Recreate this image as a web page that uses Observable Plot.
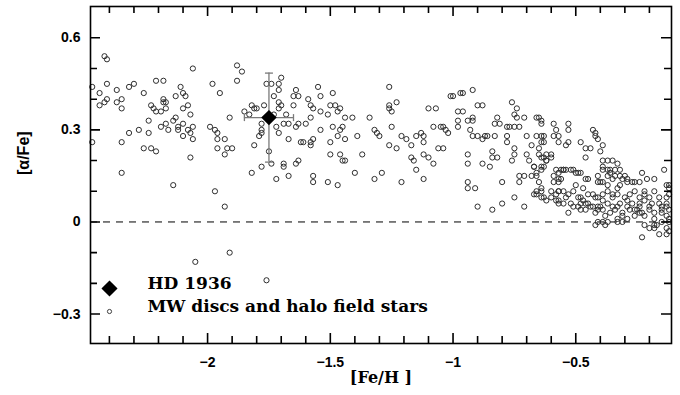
<!DOCTYPE html>
<html><head><meta charset="utf-8">
<script src="https://cdn.jsdelivr.net/npm/d3@7"></script>
<script src="https://cdn.jsdelivr.net/npm/@observablehq/plot@0.6"></script>
<style>
html,body{margin:0;padding:0;background:#fff;color:#000;}
#chart svg{display:block;}
</style></head><body><div id="chart"></div>
<script>
// [Fe/H], [alpha/Fe] of MW discs and halo field stars
const metalPoorStars = [
[-2.42,0.54],[-2.41,0.53],[-2.06,0.50],[-2.47,0.44],[-2.41,0.45],[-2.44,0.42],[-2.37,0.43],[-2.32,0.44],[-2.30,0.45],[-2.26,0.42],
[-2.21,0.46],[-2.18,0.46],[-2.11,0.44],[-2.10,0.42],[-2.09,0.41],[-2.13,0.41],[-1.98,0.45],[-1.95,0.42],[-2.44,0.38],[-2.42,0.39],
[-2.41,0.40],[-2.37,0.39],[-2.35,0.40],[-2.35,0.37],[-2.23,0.38],[-2.22,0.37],[-2.21,0.36],[-2.19,0.36],[-2.18,0.39],[-2.18,0.40],
[-2.17,0.39],[-2.17,0.37],[-2.13,0.34],[-2.14,0.33],[-2.10,0.37],[-2.08,0.38],[-2.07,0.35],[-2.24,0.33],[-2.28,0.30],[-2.24,0.29],
[-2.32,0.29],[-2.47,0.26],[-2.35,0.26],[-2.26,0.24],[-2.23,0.24],[-2.21,0.23],[-2.19,0.31],[-2.17,0.32],[-2.16,0.30],[-2.12,0.31],
[-2.12,0.30],[-2.10,0.28],[-2.10,0.32],[-2.08,0.30],[-2.07,0.29],[-2.06,0.31],[-2.06,0.27],[-2.07,0.21],[-2.35,0.16],[-2.14,0.12],
[-1.99,0.31],[-1.97,0.30],[-1.96,0.29],[-1.96,0.27],[-1.96,0.24],[-1.93,0.27],[-1.92,0.24],[-1.93,0.22],[-1.91,0.34],[-1.97,0.10],
[-1.93,0.05],[-1.91,-0.10],[-2.05,-0.13],[-1.76,-0.19],[-1.90,0.24]
];
const intermediateStars = [
[-1.88,0.51],[-1.86,0.49],[-1.88,0.46],[-1.81,0.25],[-1.82,0.16],[-1.78,0.18],[-1.74,0.19],[-1.69,0.19],[-1.69,0.18],[-1.72,0.14],
[-1.67,0.15],[-1.64,0.19],[-1.63,0.20],[-1.75,0.23],[-1.76,0.45],[-1.74,0.45],[-1.71,0.45],[-1.70,0.47],[-1.71,0.43],[-1.73,0.41],
[-1.71,0.39],[-1.70,0.38],[-1.71,0.37],[-1.77,0.38],[-1.82,0.38],[-1.81,0.37],[-1.80,0.37],[-1.85,0.36],[-1.83,0.35],[-1.73,0.35],
[-1.68,0.35],[-1.78,0.32],[-1.78,0.29],[-1.78,0.30],[-1.79,0.28],[-1.72,0.31],[-1.71,0.29],[-1.69,0.32],[-1.67,0.32],[-1.64,0.31],
[-1.63,0.32],[-1.60,0.32],[-1.58,0.34],[-1.67,0.27],[-1.62,0.26],[-1.58,0.26],[-1.58,0.25],[-1.57,0.27],[-1.64,0.43],[-1.63,0.41],
[-1.65,0.41],[-1.65,0.38],[-1.59,0.40],[-1.58,0.38],[-1.57,0.37],[-1.55,0.44],[-1.54,0.41],[-1.54,0.36],[-1.51,0.35],[-1.49,0.42],
[-1.50,0.38],[-1.48,0.38],[-1.46,0.37],[-1.47,0.36],[-1.44,0.34],[-1.41,0.34],[-1.46,0.30],[-1.45,0.31],[-1.49,0.31],[-1.54,0.30],
[-1.47,0.28],[-1.44,0.27],[-1.39,0.28],[-1.50,0.26],[-1.50,0.22],[-1.46,0.22],[-1.45,0.20],[-1.44,0.20],[-1.37,0.22],[-1.57,0.15],
[-1.57,0.13],[-1.51,0.13],[-1.47,0.12],[-1.40,0.16],[-1.34,0.34],[-1.32,0.30],[-1.31,0.29],[-1.30,0.28],[-1.26,0.44],[-1.26,0.38],
[-1.26,0.37],[-1.25,0.36],[-1.23,0.39],[-1.25,0.31],[-1.26,0.25],[-1.23,0.24],[-1.32,0.14],[-1.29,0.16],[-1.21,0.13],[-1.21,0.28],
[-1.19,0.27],[-1.17,0.25],[-1.15,0.28],[-1.13,0.29],[-1.12,0.28],[-1.12,0.26],[-1.17,0.21],[-1.16,0.20],[-1.15,0.17],[-1.12,0.22],
[-1.10,0.21],[-1.08,0.19],[-1.12,0.14],[-1.10,0.37],[-1.07,0.37],[-1.08,0.31],[-1.04,0.31],[-1.03,0.30],[-1.02,0.29],[-1.04,0.24],
[-1.01,0.41],[-1.61,0.26],[-1.06,0.24]
];
const thickDiscStars = [
[-1.00,0.41],[-0.97,0.42],[-0.96,0.42],[-0.92,0.43],[-0.98,0.36],[-0.96,0.36],[-0.98,0.33],[-0.98,0.31],[-0.94,0.33],[-0.92,0.34],
[-0.92,0.33],[-0.90,0.38],[-0.88,0.38],[-1.05,0.31],[-0.93,0.30],[-0.92,0.28],[-0.90,0.28],[-0.88,0.27],[-0.87,0.28],[-0.86,0.28],
[-0.83,0.28],[-0.94,0.22],[-0.94,0.19],[-0.88,0.19],[-0.85,0.18],[-0.84,0.21],[-0.84,0.23],[-0.82,0.21],[-0.82,0.34],[-0.83,0.32],
[-0.81,0.32],[-0.80,0.13],[-0.78,0.31],[-0.77,0.31],[-0.78,0.28],[-0.78,0.26],[-0.76,0.39],[-0.74,0.37],[-0.75,0.35],[-0.74,0.34],
[-0.75,0.31],[-0.73,0.31],[-0.75,0.24],[-0.75,0.22],[-0.76,0.20],[-0.73,0.15],[-0.73,0.13],[-0.71,0.15],[-0.71,0.34],[-0.70,0.28],
[-0.68,0.25],[-0.70,0.22],[-0.69,0.20],[-0.67,0.18],[-0.66,0.34],[-0.65,0.34],[-0.64,0.33],[-0.64,0.32],[-0.66,0.28],[-0.64,0.28],
[-0.63,0.28],[-0.64,0.26],[-0.63,0.26],[-0.65,0.24],[-0.65,0.22],[-0.64,0.21],[-0.63,0.21],[-0.62,0.20],[-0.62,0.22],[-0.60,0.22],
[-0.62,0.20],[-0.63,0.18],[-0.64,0.18],[-0.67,0.18],[-0.64,0.17],[-0.66,0.16],[-0.68,0.15],[-0.66,0.15],[-0.94,0.13],[-0.94,0.11],
[-0.91,0.11],[-0.90,0.05],[-0.84,0.04],[-0.80,0.06],[-0.75,0.08],[-0.71,0.05],[-0.65,0.13],[-0.64,0.11],[-0.64,0.10],[-0.66,0.09],
[-0.67,0.09],[-0.66,0.10],[-0.64,0.08],[-0.63,0.08],[-0.62,0.07],[-0.60,0.10],[-0.58,0.09],[-0.57,0.10],[-0.59,0.13],[-0.57,0.13],
[-0.59,0.15],[-0.57,0.16],[-0.58,0.07],[-0.57,0.06],[-0.53,0.03],[-0.59,0.32],[-0.58,0.30],[-0.59,0.28],[-0.60,0.21],[-0.57,0.28],
[-0.57,0.26],[-0.54,0.25],[-0.53,0.26],[-0.58,0.17],[-0.55,0.17],[-0.54,0.17],[-0.51,0.17],[-0.53,0.32],[-0.53,0.30],[-0.60,0.08],
[-0.55,0.06],[-0.51,0.05],[-0.48,0.06]
];
const thinDiscStars = [
[-0.48,0.26],[-0.46,0.24],[-0.44,0.24],[-0.46,0.21],[-0.43,0.30],[-0.42,0.29],[-0.42,0.28],[-0.41,0.27],[-0.39,0.25],[-0.40,0.23],
[-0.39,0.20],[-0.37,0.20],[-0.35,0.20],[-0.33,0.19],[-0.39,0.17],[-0.37,0.17],[-0.36,0.16],[-0.34,0.15],[-0.32,0.15],[-0.49,0.16],
[-0.48,0.16],[-0.46,0.14],[-0.41,0.15],[-0.40,0.13],[-0.30,0.15],[-0.29,0.13],[-0.27,0.13],[-0.26,0.13],[-0.23,0.16],[-0.21,0.14],
[-0.18,0.14],[-0.14,0.17],[-0.12,0.12],[-0.12,0.11],[-0.56,0.17],[-0.55,0.17],[-0.52,0.17],[-0.50,0.16],[-0.39,0.18],[-0.36,0.17],
[-0.34,0.17],[-0.32,0.17],[-0.45,0.14],[-0.37,0.15],[-0.57,0.14],[-0.56,0.14],[-0.35,0.14],[-0.31,0.14],[-0.29,0.14],[-0.24,0.13],
[-0.50,0.12],[-0.47,0.11],[-0.41,0.13],[-0.39,0.13],[-0.37,0.12],[-0.33,0.11],[-0.32,0.12],[-0.22,0.10],[-0.18,0.10],[-0.13,0.12],
[-0.57,0.10],[-0.55,0.10],[-0.53,0.09],[-0.51,0.10],[-0.48,0.08],[-0.45,0.09],[-0.43,0.09],[-0.41,0.08],[-0.39,0.09],[-0.37,0.10],
[-0.35,0.09],[-0.33,0.09],[-0.30,0.08],[-0.28,0.09],[-0.26,0.10],[-0.24,0.08],[-0.22,0.09],[-0.20,0.08],[-0.16,0.08],[-0.13,0.08],
[-0.12,0.09],[-0.57,0.07],[-0.54,0.08],[-0.52,0.06],[-0.49,0.08],[-0.47,0.07],[-0.45,0.06],[-0.42,0.08],[-0.39,0.07],[-0.37,0.06],
[-0.35,0.08],[-0.32,0.06],[-0.29,0.07],[-0.27,0.06],[-0.24,0.06],[-0.22,0.07],[-0.19,0.06],[-0.16,0.06],[-0.13,0.06],[-0.49,0.05],
[-0.46,0.04],[-0.43,0.05],[-0.41,0.04],[-0.39,0.04],[-0.36,0.03],[-0.33,0.05],[-0.31,0.03],[-0.28,0.04],[-0.25,0.04],[-0.23,0.03],
[-0.20,0.04],[-0.18,0.03],[-0.15,0.04],[-0.12,0.04],[-0.41,0.05],[-0.31,0.02],[-0.26,0.02],[-0.38,0.02],[-0.33,0.01],[-0.29,0.01],
[-0.22,0.02],[-0.18,0.01],[-0.13,0.02],[-0.12,0.01],[-0.42,-0.01],[-0.38,-0.01],[-0.33,0.00],[-0.31,0.00],[-0.22,-0.01],[-0.20,-0.02],
[-0.18,-0.02],[-0.17,-0.01],[-0.15,0.00],[-0.13,-0.02],[-0.12,0.00],[-0.16,-0.04],[-0.13,-0.04],[-0.23,-0.05],[-0.41,0.00],[-0.39,0.00],
[-0.37,0.00],[-0.12,-0.03],[-0.18,-0.01],[-0.46,0.06],[-0.44,0.05],[-0.40,0.05],[-0.35,0.05],[-0.34,0.04],[-0.29,0.05],[-0.26,0.04],
[-0.24,0.05],[-0.20,0.05],[-0.15,0.05],[-0.13,0.05],[-0.48,0.04],[-0.42,0.03],[-0.24,0.03],[-0.15,0.03]
];
const hd1936 = [{name: "HD 1936", feH: -1.75, alphaFe: 0.34, errFeH: 0.10, errAlpha: 0.145}];
const legendLabels = ["HD 1936", "MW discs and halo field stars"];
const xMajorTicks = [-2, -1.5, -1, -0.5];
const xMinorTicks = [-2.4,-2.3,-2.2,-2.1,-1.9,-1.8,-1.7,-1.6,-1.4,-1.3,-1.2,-1.1,-0.9,-0.8,-0.7,-0.6,-0.4,-0.3,-0.2];
const yMajorTicks = [0.6, 0.3, 0, -0.3];
const yMinorTicks = [0.5, 0.4, 0.2, 0.1, -0.1, -0.2];

const stars = [...metalPoorStars, ...intermediateStars, ...thickDiscStars, ...thinDiscStars];

// layout
const W = 680, H = 395, mL = 90, mR = 9, mT = 6, mB = 52;
const plotW = W - mL - mR, plotH = H - mT - mB;
const xDom = [-2.477, -0.11], yDom = [-0.396, 0.702];

const fmt = d => d === 0 ? "0" : (d < 0 ? "\u2212" : "") + Math.abs(d);
const hCap = {draw(ctx, size) { const w = Math.sqrt(size / Math.PI); ctx.moveTo(-w, 0); ctx.lineTo(w, 0); }};
const vCap = {draw(ctx, size) { const w = Math.sqrt(size / Math.PI); ctx.moveTo(0, -w); ctx.lineTo(0, w); }};
// inward ticks at both ends of a full-span rule, drawn with a dash pattern
const ends = (span, len) => `${len},${span - 2 * len},${len}`;
const tk = {stroke: "#000", strokeWidth: 1.6};
const serif = "'DejaVu Serif', 'Liberation Serif', serif";
const errColor = "#7a7a7a";
const legendFont = {frameAnchor: "bottom-left", dx: 57, textAnchor: "start", fontFamily: serif, fontSize: 17, fontWeight: "bold", letterSpacing: 1.8};

const chart = Plot.plot({
  width: W, height: H,
  marginLeft: mL, marginRight: mR, marginTop: mT, marginBottom: mB,
  x: {domain: xDom},
  y: {domain: yDom},
  style: {fontFamily: "'Liberation Sans', Arial, sans-serif"},
  marks: [
    Plot.ruleY([0], {stroke: "#000", strokeWidth: 1, strokeDasharray: "7,6"}),
    Plot.dot(stars, {x: d => d[0], y: d => d[1], r: 2.6, stroke: "#2e2e2e", strokeWidth: 1}),
    Plot.ruleX(hd1936, {x: "feH", y1: d => d.alphaFe - d.errAlpha, y2: d => d.alphaFe + d.errAlpha, stroke: errColor, strokeWidth: 1.3}),
    Plot.ruleY(hd1936, {y: "alphaFe", x1: d => d.feH - d.errFeH, x2: d => d.feH + d.errFeH, stroke: errColor, strokeWidth: 1.3}),
    Plot.dot(hd1936, {x: "feH", y: d => d.alphaFe + d.errAlpha, symbol: hCap, r: 4, fill: "none", stroke: errColor, strokeWidth: 1.3}),
    Plot.dot(hd1936, {x: "feH", y: d => d.alphaFe - d.errAlpha, symbol: hCap, r: 4, fill: "none", stroke: errColor, strokeWidth: 1.3}),
    Plot.dot(hd1936, {x: d => d.feH - d.errFeH, y: "alphaFe", symbol: vCap, r: 3.5, fill: "none", stroke: errColor, strokeWidth: 1.3}),
    Plot.dot(hd1936, {x: d => d.feH + d.errFeH, y: "alphaFe", symbol: vCap, r: 3.5, fill: "none", stroke: errColor, strokeWidth: 1.3}),
    Plot.dot(hd1936, {x: "feH", y: "alphaFe", symbol: "diamond2", r: 6, fill: "#000", stroke: "#000"}),
    // inward ticks on all four sides
    Plot.ruleX(xMajorTicks, {x: d => d, strokeDasharray: ends(plotH, 10), ...tk}),
    Plot.ruleX(xMinorTicks, {x: d => d, strokeDasharray: ends(plotH, 7), ...tk}),
    Plot.ruleY(yMajorTicks, {y: d => d, strokeDasharray: ends(plotW, 10), ...tk}),
    Plot.ruleY(yMinorTicks, {y: d => d, strokeDasharray: ends(plotW, 7), ...tk}),
    Plot.frame({stroke: "#000", strokeWidth: 1.6}),
    // tick labels
    Plot.axisX(xMajorTicks, {anchor: "bottom", tickSize: 0, tickPadding: 14, tickFormat: fmt, label: null, fontSize: 14, fontWeight: "bold"}),
    Plot.axisY(yMajorTicks, {anchor: "left", tickSize: 0, tickPadding: 10, tickFormat: fmt, label: null, fontSize: 14, fontWeight: "bold"}),
    // axis titles
    Plot.text(["[Fe/H ]"], {frameAnchor: "bottom", dy: 39, fontFamily: serif, fontSize: 16, fontWeight: "bold", letterSpacing: 1}),
    Plot.text(["[\u03b1/Fe]"], {frameAnchor: "left", dx: -67, rotate: -90, fontSize: 16, fontWeight: "bold"}),
    // legend
    Plot.dot([legendLabels[0]], {frameAnchor: "bottom-left", dx: 19, dy: -55, symbol: "diamond2", r: 6.3, fill: "#000", stroke: "#000"}),
    Plot.dot([legendLabels[1]], {frameAnchor: "bottom-left", dx: 19, dy: -32, r: 2.1, stroke: "#2e2e2e", strokeWidth: 0.9}),
    Plot.text([legendLabels[0]], {...legendFont, dy: -55}),
    Plot.text([legendLabels[1]], {...legendFont, dy: -32})
  ]
});
document.getElementById("chart").appendChild(chart);
</script>
</body></html>
